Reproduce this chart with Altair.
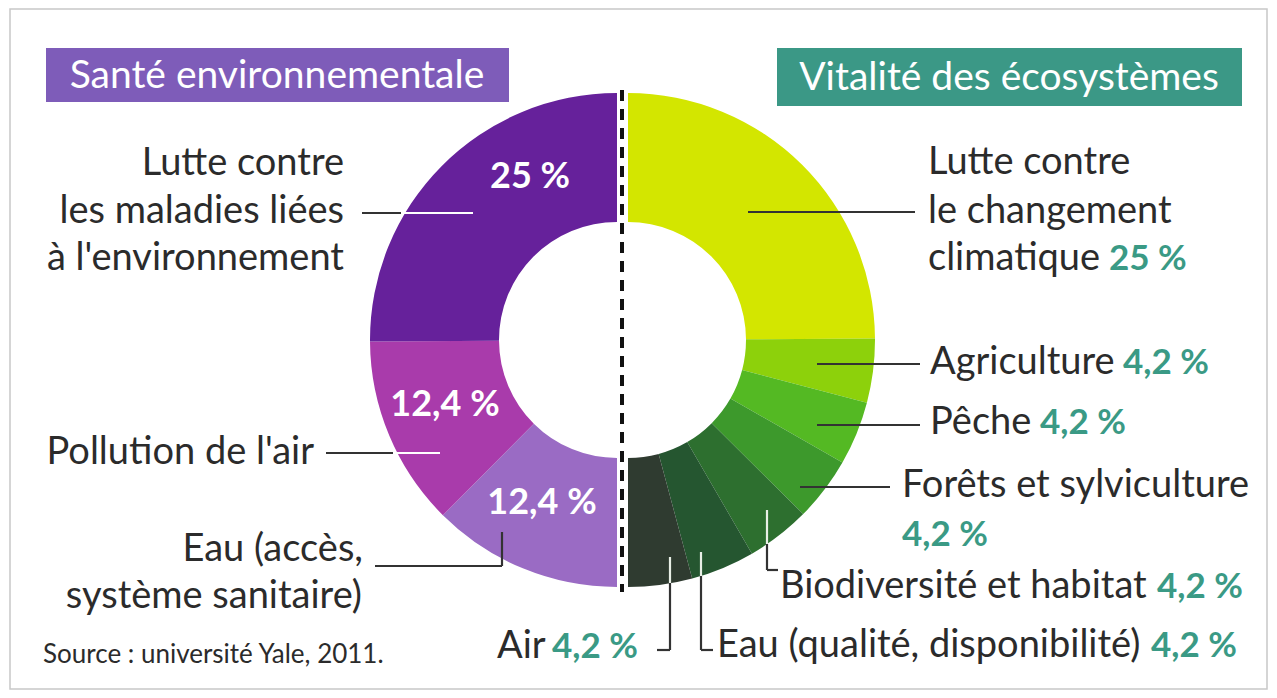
import math
import altair as alt
import pandas as pd

# ---------------- data ----------------
left_categories = ["Eau (accès, système sanitaire)", "Pollution de l'air",
                   "Lutte contre les maladies liées à l'environnement"]
left_values = [12.4, 12.4, 25]
left_colors = ["#9a6bc4", "#a93bab", "#66219b"]

right_categories = ["Lutte contre le changement climatique", "Agriculture", "Pêche",
                    "Forêts et sylviculture", "Biodiversité et habitat",
                    "Eau (qualité, disponibilité)", "Air"]
right_values = [25, 4.2, 4.2, 4.2, 4.2, 4.2, 4.2]
right_colors = ["#d3e600", "#8dd10b", "#54b923", "#3d992c", "#2d6f2f", "#255630", "#2f3b30"]

left_pct = ["12,4 %", "12,4 %", "25 %"]
right_pct = ["25 %", "4,2 %", "4,2 %", "4,2 %", "4,2 %", "4,2 %", "4,2 %"]

# ---------------- layout (pixel positions, page coordinates) ----------------
OFF = 8
W, H = 1261, 682
FONT = "Lato"
DARK = "#2b2b2b"
TEAL = "#3a9a85"
LS = 38   # label font size
PS = 35   # teal percentage size

left_df = pd.DataFrame({"cat": left_categories, "value": left_values,
                        "color": left_colors, "idx": range(len(left_values))})
right_df = pd.DataFrame({"cat": right_categories, "value": right_values,
                         "color": right_colors, "idx": range(len(right_values))})

R_OUT, R_IN = 247, 118


def donut(df, cx, cy, rng):
    total = float(sum(df["value"]))
    return alt.Chart(df).mark_arc(outerRadius=R_OUT, innerRadius=R_IN).encode(
        theta=alt.Theta("value:Q", stack=True,
                        scale=alt.Scale(domain=[0, total], range=rng)),
        order=alt.Order("idx:Q"),
        color=alt.Color("color:N", scale=None),
        x=alt.value(cx - OFF),
        y=alt.value(cy - OFF),
    )


left_arc = donut(left_df, 617, 340, [math.pi, 2 * math.pi])
right_arc = donut(right_df, 628, 340, [0, math.pi])

# frame
frame_df = pd.DataFrame({"x": [10 - OFF], "x2": [1267 - OFF], "y": [9 - OFF], "y2": [689 - OFF]})
frame = alt.Chart(frame_df).mark_rect(fill="white", stroke="#c8c8c8", strokeWidth=1.5).encode(
    x=alt.X("x:Q", scale=None), x2="x2:Q", y=alt.Y("y:Q", scale=None), y2="y2:Q")

# title boxes
box_df = pd.DataFrame({
    "x": [46 - OFF, 777 - OFF], "x2": [509 - OFF, 1242 - OFF],
    "y": [48 - OFF, 48 - OFF], "y2": [102 - OFF, 106 - OFF],
    "color": ["#7e5cb9", "#3b9886"],
})
boxes = alt.Chart(box_df).mark_rect().encode(
    x=alt.X("x:Q", scale=None), x2="x2:Q", y=alt.Y("y:Q", scale=None), y2="y2:Q",
    color=alt.Color("color:N", scale=None))

# dashed separator
sep = alt.Chart(pd.DataFrame({"a": [0]})).mark_rule(
    color="#111111", strokeWidth=4, strokeDash=[11, 8]).encode(
    x=alt.value(622 - OFF), y=alt.value(90 - OFF), y2=alt.value(592 - OFF))

# leader lines: (x1, y1, x2, y2, color)
LW = "#ffffff"
LD = "#333333"
LL = "#e8efe6"
leaders = [
    (362, 213, 401, 213, LD), (401, 213, 473, 213, LW),
    (326, 453, 393, 453, LD), (393, 453, 440, 453, LW),
    (375, 566, 502, 566, LD), (502, 532, 502, 566, LD),
    (748, 212, 915, 212, LD),
    (817, 364, 920, 364, LD),
    (817, 425, 920, 425, LD),
    (800, 487, 890, 487, LD),
    (767, 510, 767, 544, LL), (767, 544, 767, 570, LD), (767, 570, 778, 570, LD),
    (701, 552, 701, 576, LL), (701, 576, 701, 650, LD), (701, 650, 713, 650, LD),
    (670, 557, 670, 583, LL), (670, 583, 670, 650, LD), (657, 650, 670, 650, LD),
]
lead_df = pd.DataFrame([{"x": a - OFF, "y": b - OFF, "x2": c - OFF, "y2": d - OFF, "color": e}
                        for a, b, c, d, e in leaders])
lead = alt.Chart(lead_df).mark_rule(strokeWidth=2.2).encode(
    x=alt.X("x:Q", scale=None), y=alt.Y("y:Q", scale=None),
    x2="x2:Q", y2="y2:Q", color=alt.Color("color:N", scale=None))

# text annotations: (text, x, y, align, size, weight, color)
texts = [
    ("Santé environnementale", 277, 76, "center", 39, "normal", "white"),
    ("Vitalité des écosystèmes", 1009, 78, "center", 39, "normal", "white"),
    ("Lutte contre", 344, 164, "right", LS, "normal", DARK),
    ("les maladies liées", 344, 212, "right", LS, "normal", DARK),
    ("à l'environnement", 344, 259, "right", LS, "normal", DARK),
    ("Pollution de l'air", 314, 453, "right", LS, "normal", DARK),
    ("Eau (accès,", 363, 550, "right", LS, "normal", DARK),
    ("système sanitaire)", 362, 597, "right", LS, "normal", DARK),
    (left_pct[2], 530, 177, "center", 36, "bold", "white"),
    (left_pct[1], 445, 405, "center", 36, "bold", "white"),
    (left_pct[0], 542, 503, "center", 36, "bold", "white"),
    ("Lutte contre", 928, 163, "left", LS, "normal", DARK),
    ("le changement", 928, 212, "left", LS, "normal", DARK),
    ("climatique", 928, 259, "left", LS, "normal", DARK),
    (right_pct[0], 1109, 259, "left", PS, "bold", TEAL),
    ("Agriculture", 930, 363, "left", LS, "normal", DARK),
    (right_pct[1], 1123, 363, "left", PS, "bold", TEAL),
    ("Pêche", 930, 423, "left", LS, "normal", DARK),
    (right_pct[2], 1040, 423, "left", PS, "bold", TEAL),
    ("Forêts et sylviculture", 902, 486, "left", LS, "normal", DARK),
    (right_pct[3], 902, 535, "left", PS, "bold", TEAL),
    ("Biodiversité et habitat", 780, 587, "left", LS, "normal", DARK),
    (right_pct[4], 1157, 587, "left", PS, "bold", TEAL),
    ("Eau (qualité, disponibilité)", 717, 646, "left", LS, "normal", DARK),
    (right_pct[5], 1151, 646, "left", PS, "bold", TEAL),
    ("Air", 497, 647, "left", LS, "normal", DARK),
    (right_pct[6], 552, 647, "left", PS, "bold", TEAL),
    ("Source : université Yale, 2011.", 43, 655, "left", 26, "normal", DARK),
]

text_layers = []
for t, x, y, al, sz, wt, col in texts:
    text_layers.append(
        alt.Chart(pd.DataFrame({"t": [t]})).mark_text(
            align=al, baseline="middle", font=FONT, fontSize=sz, fontWeight=wt, color=col
        ).encode(text="t:N", x=alt.value(x - OFF), y=alt.value(y - OFF))
    )

chart = alt.layer(frame, boxes, left_arc, right_arc, sep, lead, *text_layers).resolve_scale(
    theta="independent"
).properties(
    width=W, height=H, padding=0, autosize=alt.AutoSizeParams(type="none"),
    background="white"
).configure_view(stroke=None)

chart.save("out.html", embed_options={"renderer": "svg", "actions": False})
